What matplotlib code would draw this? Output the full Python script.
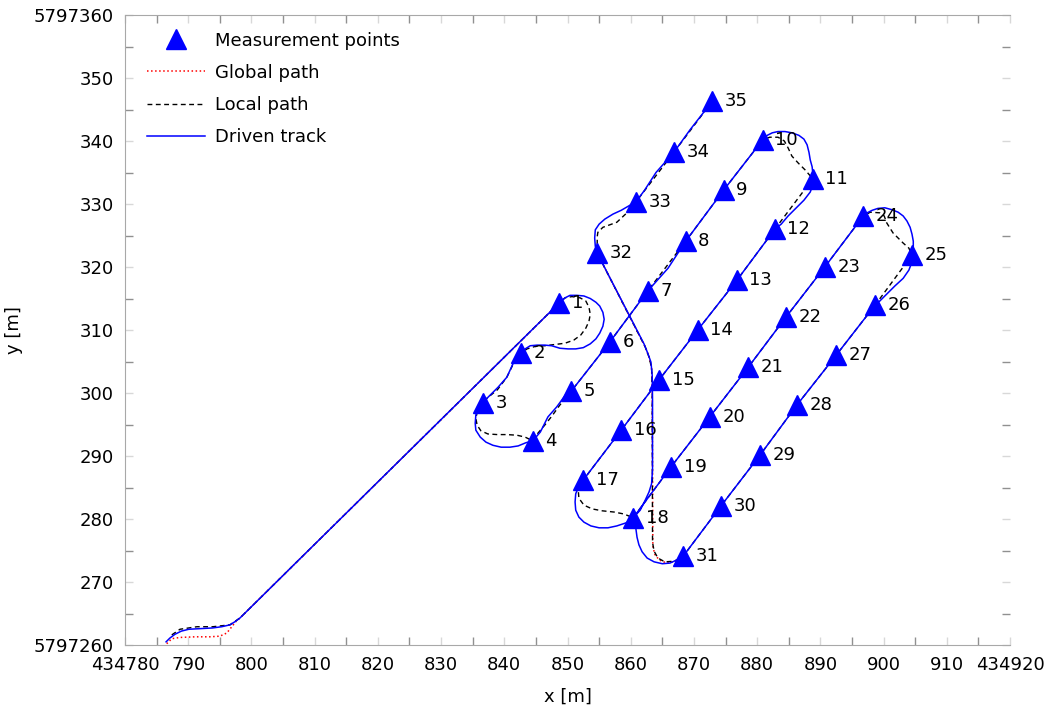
import numpy as np
import matplotlib
matplotlib.use('Agg')
import matplotlib.pyplot as plt
from matplotlib.ticker import MultipleLocator, FuncFormatter

# UTM origin, all values below are metres relative to it
E0 = 434000
N0 = 5797000

# measurement points 1..35
pt_x = [848.7, 842.6, 836.6, 844.5, 850.6, 856.7, 862.7, 868.7, 874.7, 880.9,
        888.8, 882.8, 876.8, 870.6, 864.5, 858.5, 852.5, 860.4, 866.4, 872.5,
        878.6, 884.6, 890.7, 896.8, 904.5, 898.7, 892.5, 886.3, 880.5, 874.3,
        868.3, 854.7, 860.8, 866.9, 872.9]
pt_y = [314.3, 306.3, 298.4, 292.4, 300.3, 308.1, 316.2, 324.1, 332.2, 340.2,
        334.0, 326.0, 317.9, 310.0, 302.1, 294.1, 286.2, 280.2, 288.3, 296.2,
        304.1, 312.1, 320.0, 328.1, 321.9, 314.0, 306.0, 298.1, 290.2, 282.1,
        274.1, 322.2, 330.3, 338.3, 346.3]
pt_labels = [str(i) for i in range(1, 36)]

# local path, in pieces
loc_start_x = [787.4, 788.7, 791.4, 793.9, 796.6, 798.2]
loc_start_y = [261.6, 262.5, 262.9, 262.9, 263.2, 264.3]
loc_main_x = [848.7, 849.6, 850.7, 852.0, 852.9, 853.4, 853.6, 853.4, 852.9, 852.1,
              851.0, 849.6, 848.0, 846.4, 844.9, 843.6, 842.6,
              841.7, 840.4, 838.9, 837.3, 836.6,
              835.8, 835.5, 835.7, 836.3, 837.4, 838.9, 840.4, 842.0, 843.3, 844.5,
              845.3, 846.4, 847.5, 848.8, 850.6, 856.7, 862.7, 868.7, 874.7, 880.9,
              882.0, 883.3, 884.3, 884.9, 885.5, 886.5, 887.6, 888.8,
              882.8, 876.8, 870.6, 864.5, 858.5, 852.5,
              851.7, 851.8, 852.6, 853.9, 855.5, 857.4, 858.9, 860.4,
              866.4, 872.5, 878.6, 884.6, 890.7, 896.8,
              897.9, 899.4, 900.1, 900.5, 901.5, 903.1, 904.0, 904.5,
              898.7, 892.5, 886.3, 880.5, 874.3, 868.3]
loc_main_y = [314.3, 315.1, 315.3, 315.1, 314.6, 313.6, 312.5, 311.4, 310.3, 309.2,
              308.4, 307.9, 307.7, 307.5, 307.4, 307.0, 306.3,
              305.2, 302.5, 300.5, 299.2, 298.4,
              297.3, 296.0, 294.9, 294.0, 293.5, 293.4, 293.4, 293.3, 293.0, 292.4,
              293.6, 294.9, 296.3, 298.1, 300.3, 308.1, 316.2, 324.1, 332.2, 340.2,
              340.6, 340.6, 340.0, 338.9, 337.6, 336.5, 335.4, 334.0,
              326.0, 317.9, 310.0, 302.1, 294.1, 286.2,
              284.6, 283.3, 282.2, 281.6, 281.3, 281.1, 280.8, 280.2,
              288.3, 296.2, 304.1, 312.1, 320.0, 328.1,
              328.7, 328.6, 328.1, 327.0, 325.4, 323.8, 323.0, 321.9,
              314.0, 306.0, 298.1, 290.2, 282.1, 274.1]
loc_corner_x = [866.9, 865.4, 864.3, 863.7, 863.45]
loc_corner_y = [273.3, 273.2, 273.8, 274.9, 276.3]
loc_end_x = [863.4, 863.3, 862.9, 862.3, 854.7,
             854.7, 854.7, 854.8, 855.6, 857.8, 859.4, 860.8, 866.9, 872.9]
loc_end_y = [300.9, 304.0, 305.7, 307.3, 322.2,
             323.6, 324.8, 325.5, 326.3, 327.1, 328.6, 330.3, 338.3, 346.3]

# global path: approach to point 1 and transfer from 31 to 32
glob_start_x = [786.6, 787.4, 788.7, 791.1, 793.4, 795.0, 796.1, 796.9, 797.6, 798.2,
                848.7]
glob_start_y = [260.2, 261.0, 261.2, 261.3, 261.3, 261.4, 261.9, 262.9, 263.8, 264.3,
                314.3]
glob_transfer_x = [868.3, 867.2, 865.7, 864.5, 863.8, 863.5, 863.4, 863.3, 862.9,
                   862.3, 854.7]
glob_transfer_y = [274.1, 273.3, 273.0, 273.5, 274.4, 275.7, 300.9, 304.0, 305.7,
                   307.3, 322.2]

# driven track
drv_x = [786.5, 787.1, 787.9, 788.9, 790.1, 791.9, 793.8, 795.3, 796.6, 797.4, 798.2,
         848.7, 849.6, 850.4, 851.5, 852.6, 853.6, 854.5, 855.1, 855.6, 855.8,
         855.6, 855.1, 854.5, 853.6, 852.5, 851.3, 850.1, 848.8, 847.5, 846.4,
         845.2, 844.1, 843.3, 842.6,
         842.0, 840.4, 839.0, 837.3, 836.6,
         836.0, 835.5, 835.4, 835.5, 836.2, 837.1, 838.2, 839.5, 840.9, 842.2,
         843.4, 844.5,
         845.7, 846.9, 848.3, 849.9, 850.6, 856.7, 862.7, 865.9, 868.7, 874.7, 880.9,
         881.6, 882.4, 883.3, 884.4, 885.5, 886.6, 887.4, 887.9, 888.2, 888.4,
         888.7, 888.8, 888.8,
         888.8, 888.4, 887.4, 886.2, 884.9, 883.8, 882.8,
         876.8, 870.6, 864.5, 858.5, 852.5,
         851.8, 851.3, 851.2, 851.3, 851.8, 852.6, 853.7, 855.0, 856.4, 857.8,
         859.3, 860.4,
         866.4, 872.5, 878.6, 884.6, 890.7, 896.8,
         897.4, 898.2, 899.1, 900.2, 901.3, 902.3, 903.1, 903.7, 904.2, 904.5,
         904.7, 904.7, 904.5,
         904.5, 904.0, 903.1, 901.8, 900.5, 899.4, 898.7,
         892.5, 886.3, 880.5, 874.3, 868.3,
         867.3, 866.2, 865.0, 863.7, 862.6, 861.8, 861.3, 861.0, 860.8, 860.4,
         861.5, 862.3, 862.9, 863.3, 863.45, 863.45, 863.4, 863.2, 862.7, 862.1,
         854.7,
         854.4, 854.3, 854.4, 855.0, 855.9, 857.2, 858.5, 859.7, 860.8,
         862.2, 864.0, 866.9, 869.4, 872.9]
drv_y = [260.5, 261.1, 261.7, 262.2, 262.5, 262.6, 262.7, 262.9, 263.2, 263.7, 264.3,
         314.3, 315.1, 315.5, 315.5, 315.4, 315.0, 314.4, 313.8, 312.8, 311.7,
         310.6, 309.5, 308.6, 307.8, 307.2, 307.0, 307.0, 307.1, 307.5, 307.6,
         307.6, 307.5, 307.0, 306.3,
         306.0, 302.5, 300.9, 299.2, 298.4,
         297.6, 296.5, 295.2, 294.1, 293.0, 292.2, 291.7, 291.4, 291.4, 291.6,
         292.1, 292.4,
         293.8, 296.2, 297.8, 300.0, 300.3, 308.1, 316.2, 319.8, 324.1, 332.2, 340.2,
         340.9, 341.3, 341.5, 341.5, 341.3, 340.9, 340.3, 339.4, 338.2, 337.0,
         335.9, 334.9, 334.0,
         333.0, 331.9, 330.6, 329.4, 328.1, 326.8, 326.0,
         317.9, 310.0, 302.1, 294.1, 286.2,
         285.2, 284.0, 282.7, 281.4, 280.3, 279.5, 278.9, 278.6, 278.6, 278.9,
         279.4, 280.2,
         288.3, 296.2, 304.1, 312.1, 320.0, 328.1,
         328.6, 329.0, 329.3, 329.4, 329.1, 328.7, 328.1, 327.3, 326.3, 325.2,
         324.1, 323.0, 321.9,
         320.8, 319.5, 318.2, 317.0, 315.7, 314.6, 314.0,
         306.0, 298.1, 290.2, 282.1, 274.1,
         273.5, 273.0, 272.9, 273.2, 273.8, 274.8, 275.9, 277.1, 278.6, 280.2,
         281.4, 283.0, 284.3, 285.6, 287.8, 298.9, 302.8, 304.9, 306.3, 307.8,
         322.2,
         323.3, 324.6, 325.9, 326.8, 327.6, 328.4, 329.0, 329.7, 330.3,
         332.2, 335.0, 338.3, 341.8, 346.3]

fig = plt.figure(figsize=(10.44, 7.11), dpi=100)
ax = fig.add_axes([125 / 1044, 66 / 711, 885 / 1044, 630 / 711])

# NaN breaks the global path into its two separate parts
gx = np.array(glob_start_x + [np.nan] + glob_transfer_x) + E0
gy = np.array(glob_start_y + [np.nan] + glob_transfer_y) + N0
lx = np.array(loc_start_x + loc_main_x + loc_corner_x + loc_end_x) + E0
ly = np.array(loc_start_y + loc_main_y + loc_corner_y + loc_end_y) + N0
dx = np.array(drv_x) + E0
dy = np.array(drv_y) + N0
px = np.array(pt_x) + E0
py = np.array(pt_y) + N0

ax.plot(px, py, linestyle='none', marker='^', markersize=14, color='#0000ff',
        zorder=5, label='Measurement points')
ax.plot(gx, gy, color='red', linestyle=':', linewidth=1.1, zorder=2,
        label='Global path')
ax.plot(lx, ly, color='black', linestyle=(0, (3.5, 2.5)), linewidth=1.0, zorder=3,
        label='Local path')
ax.plot(dx, dy, color='#0000ff', linewidth=1.1, zorder=4, label='Driven track')

for x, y, t in zip(px, py, pt_labels):
    ax.annotate(t, (x, y), xytext=(9, 0), textcoords='offset points',
                va='center', ha='left', fontsize=13, zorder=6)

ax.set_xlim(E0 + 780, E0 + 920)
ax.set_ylim(N0 + 260, N0 + 360)


def fmt_x(v, pos):
    v = int(round(v))
    if v in (E0 + 780, E0 + 920):
        return str(v)
    return str(v - E0)


def fmt_y(v, pos):
    v = int(round(v))
    if v in (N0 + 260, N0 + 360):
        return str(v)
    return str(v - N0)


ax.xaxis.set_major_locator(MultipleLocator(10))
ax.xaxis.set_minor_locator(MultipleLocator(5))
ax.yaxis.set_major_locator(MultipleLocator(10))
ax.yaxis.set_minor_locator(MultipleLocator(5))
ax.xaxis.set_major_formatter(FuncFormatter(fmt_x))
ax.yaxis.set_major_formatter(FuncFormatter(fmt_y))

ax.tick_params(which='major', direction='in', top=True, right=True,
               length=6, width=1, color='#d8d8d8', labelsize=13, pad=8)
ax.tick_params(which='minor', direction='in', top=True, right=True,
               length=6, width=1, color='#909090')

for side in ['left', 'top', 'bottom']:
    ax.spines[side].set_color('#a8a8a8')
ax.spines['right'].set_visible(False)

ax.set_xlabel('x [m]', fontsize=13, labelpad=10)
ax.set_ylabel('y [m]', fontsize=13, labelpad=8)

ax.legend(loc='upper left', bbox_to_anchor=(0.017, 0.985), frameon=False,
          fontsize=13, handlelength=3.2, handletextpad=0.55, labelspacing=0.78,
          borderaxespad=0)

fig.savefig('out.png', dpi=100)
